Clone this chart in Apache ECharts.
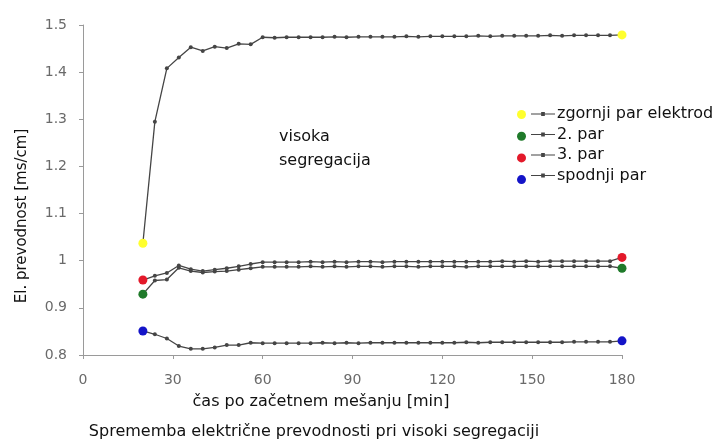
<!DOCTYPE html>
<html>
<head>
<meta charset="utf-8">
<script src="https://cdn.jsdelivr.net/npm/echarts@6/dist/echarts.min.js"></script>
<style>
  html, body { margin: 0; padding: 0; background: #fff; }
  #chart { width: 715px; height: 446px; }
</style>
</head>
<body>
<div id="chart"></div>
<script>
// Measurement times [min]
const times = [20, 24, 28, 32, 36, 40, 44, 48, 52, 56, 60, 64, 68, 72, 76, 80, 84, 88, 92, 96,
               100, 104, 108, 112, 116, 120, 124, 128, 132, 136, 140, 144, 148, 152, 156, 160,
               164, 168, 172, 176, 180];

// Conductivity [ms/cm] for each electrode pair
const zgornji = [1.037, 1.295, 1.408, 1.431, 1.453, 1.445, 1.454, 1.451, 1.460, 1.459, 1.474,
                 1.473, 1.474, 1.474, 1.474, 1.474, 1.475, 1.474, 1.475, 1.475, 1.475, 1.475,
                 1.476, 1.475, 1.476, 1.476, 1.476, 1.476, 1.477, 1.476, 1.477, 1.477, 1.477,
                 1.477, 1.478, 1.477, 1.478, 1.478, 1.478, 1.478, 1.479];
const par2 = [0.929, 0.958, 0.960, 0.985, 0.978, 0.975, 0.977, 0.978, 0.981, 0.984, 0.987,
              0.987, 0.987, 0.987, 0.988, 0.987, 0.988, 0.987, 0.988, 0.988, 0.987, 0.988,
              0.988, 0.987, 0.988, 0.988, 0.988, 0.987, 0.988, 0.988, 0.988, 0.988, 0.988,
              0.988, 0.988, 0.988, 0.988, 0.988, 0.988, 0.988, 0.984];
const par3 = [0.959, 0.968, 0.974, 0.990, 0.982, 0.978, 0.981, 0.984, 0.988, 0.993, 0.997,
              0.997, 0.997, 0.997, 0.998, 0.997, 0.998, 0.997, 0.998, 0.998, 0.997, 0.998,
              0.998, 0.998, 0.998, 0.998, 0.998, 0.998, 0.998, 0.998, 0.999, 0.998, 0.999,
              0.998, 0.999, 0.999, 0.999, 0.999, 0.999, 0.999, 1.007];
const spodnji = [0.851, 0.844, 0.835, 0.819, 0.813, 0.813, 0.816, 0.821, 0.821, 0.826, 0.825,
                 0.825, 0.825, 0.825, 0.825, 0.826, 0.825, 0.826, 0.825, 0.826, 0.826, 0.826,
                 0.826, 0.826, 0.826, 0.826, 0.826, 0.827, 0.826, 0.827, 0.827, 0.827, 0.827,
                 0.827, 0.827, 0.827, 0.828, 0.828, 0.828, 0.828, 0.830];

const seriesNames = ['zgornji par elektrod', '2. par', '3. par', 'spodnji par'];
const dotColors = ['#ffff2e', '#1f7a2a', '#e3192a', '#1414c8'];
const yTicks = [0.8, 0.9, 1.0, 1.1, 1.2, 1.3, 1.4, 1.5];
const xTicks = [0, 30, 60, 90, 120, 150, 180];

const values = [zgornji, par2, par3, spodnji];
const font = '"DejaVu Sans", Verdana, sans-serif';
const lineGray = '#454545';

const lineSeries = values.map((v, i) => ({
  name: seriesNames[i],
  type: 'line',
  data: times.map((t, k) => [t, v[k]]),
  symbol: 'circle',
  symbolSize: 4,
  lineStyle: { color: lineGray, width: 1.3 },
  itemStyle: { color: lineGray },
  z: 2
}));

// Coloured dots on the first and last reading of every pair
const endSeries = values.map((v, i) => ({
  name: 'k' + (i + 1),
  type: 'scatter',
  data: [[times[0], v[0]], [times[times.length - 1], v[v.length - 1]]],
  symbol: 'circle',
  symbolSize: 9,
  itemStyle: { color: dotColors[i], opacity: 1 },
  z: 5
}));

const chart = echarts.init(document.getElementById('chart'), null, { renderer: 'canvas' });
chart.setOption({
  animation: false,
  backgroundColor: '#fff',
  grid: { left: 83, right: 93, top: 25, bottom: 91, containLabel: false },
  xAxis: {
    type: 'value',
    min: xTicks[0], max: xTicks[xTicks.length - 1], interval: 30,
    axisLine: { lineStyle: { color: '#9a9a9a', width: 1 } },
    axisTick: { show: true, length: 4, lineStyle: { color: '#9a9a9a' } },
    axisLabel: { color: '#6a6a6a', fontSize: 14, fontFamily: font, margin: 18 },
    splitLine: { show: false }
  },
  yAxis: {
    type: 'value',
    min: yTicks[0], max: yTicks[yTicks.length - 1], interval: 0.1,
    axisLine: { show: true, lineStyle: { color: '#9a9a9a', width: 1 } },
    axisTick: { show: true, length: 4, lineStyle: { color: '#9a9a9a' } },
    axisLabel: {
      color: '#6a6a6a', fontSize: 14, fontFamily: font, margin: 16,
      formatter: v => String(Math.round(v * 10) / 10)
    },
    splitLine: { show: false }
  },
  legend: [
    {
      data: endSeries.map(s => s.name),
      orient: 'vertical', left: 512, top: 105,
      icon: 'circle', itemWidth: 9, itemHeight: 9, itemGap: 12.7,
      formatter: () => '',
      itemStyle: { opacity: 1 },
      selectedMode: false
    },
    {
      data: seriesNames,
      orient: 'vertical', left: 526, top: 101,
      icon: 'path://M0,4.4H26V5.6H0Z M11,2.8H15V7.2H11Z',
      itemWidth: 24, itemHeight: 8, itemGap: 4.5,
      itemStyle: { color: lineGray },
      textStyle: { color: '#111', fontSize: 16, fontFamily: font, padding: [0, 0, 0, -3] },
      selectedMode: false
    }
  ],
  graphic: [
    {
      type: 'text', left: 279, top: 125,
      style: { text: 'visoka\nsegregacija', fill: '#111', font: '16px ' + font, lineHeight: 24 }
    },
    {
      type: 'text', x: 22, y: 216, rotation: Math.PI / 2,
      style: { text: 'El. prevodnost [ms/cm]', fill: '#111', font: '15px ' + font,
               textAlign: 'center', textVerticalAlign: 'middle' }
    },
    {
      type: 'text', x: 321, y: 402,
      style: { text: 'čas po začetnem mešanju [min]', fill: '#111', font: '16px ' + font,
               textAlign: 'center', textVerticalAlign: 'middle' }
    },
    {
      type: 'text', x: 314, y: 432,
      style: { text: 'Sprememba električne prevodnosti pri visoki segregaciji', fill: '#111',
               font: '16px ' + font, textAlign: 'center', textVerticalAlign: 'middle' }
    }
  ],
  series: lineSeries.concat(endSeries)
});
</script>
</body>
</html>
